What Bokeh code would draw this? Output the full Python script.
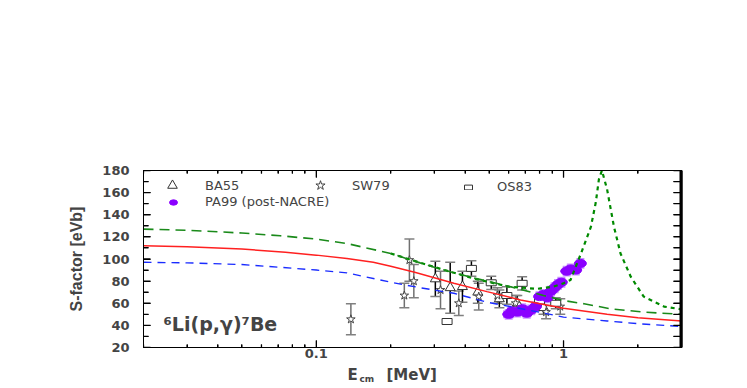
import math
import numpy as np
from bokeh.plotting import figure
from bokeh.layouts import column
from bokeh.models import (ColumnDataSource, Whisker, TeeHead, FixedTicker, LogAxis, LinearAxis,
                          Label, Legend, LegendItem, Range1d, CustomJSTickFormatter, Span)
from bokeh.embed import file_html
from bokeh.resources import INLINE

# ---------------- data ----------------
# axis ranges
XMIN, XMAX = 0.02, 3.0
YMIN, YMAX = 20, 180

# model curves  (E in MeV, S in eV b)
red_E = [0.02, 0.03, 0.05, 0.075, 0.1, 0.133, 0.17, 0.2, 0.25, 0.3, 0.36, 0.49, 0.67, 1.0, 1.5, 2.0, 3.0]
red_S = [112, 111, 109, 106, 103.5, 100.5, 97, 93.5, 88, 83, 78, 70.5, 63, 55.5, 50, 47, 44]

green_E = [0.02, 0.03, 0.05, 0.0715, 0.1, 0.133, 0.2, 0.263, 0.31, 0.44, 0.61, 0.83, 1.0, 1.21, 1.55, 2.11, 3.0]
green_S = [127, 126, 123.5, 121, 118, 114, 105, 96.5, 91.5, 82.5, 75, 67, 62.5, 59.5, 55, 52, 50]

blue_E = [0.02, 0.03, 0.05, 0.0715, 0.1, 0.133, 0.2, 0.263, 0.36, 0.49, 0.735, 1.0, 1.5, 2.0, 3.0]
blue_S = [97, 96.5, 95, 92.5, 90, 87.5, 79, 74, 69, 61, 53.5, 47.5, 44, 41.5, 39]

res_E = [0.2, 0.26, 0.33, 0.44, 0.6, 0.78, 0.91, 1.0, 1.067, 1.17, 1.29, 1.35, 1.39, 1.43, 1.5, 1.6, 1.7, 1.87, 2.11, 2.55, 3.0]
res_S = [105, 97, 90, 82, 75, 73, 75, 78, 81, 103.6, 129, 151, 172, 180, 163, 129, 105, 84, 66, 57, 54.5]

# experimental data
ba55_E = [0.303, 0.348, 0.39, 0.45, 0.55, 0.65, 0.83]
ba55_S = [82, 74, 75, 70, 64, 60, 56]
ba55_dS = [16, 23, 14, 10, 8, 7, 6]

sw79_E = [0.138, 0.227, 0.238, 0.248, 0.318, 0.377, 0.454, 0.54, 0.64, 0.85, 0.97]
sw79_S = [45.5, 67, 99, 80, 72, 60, 66, 67, 60, 52, 57]
sw79_dS = [14, 11, 19, 15, 17, 11, 12, 7, 7, 6, 7]

os83_E = [0.338, 0.424, 0.51, 0.59, 0.68, 0.8, 0.93]
os83_S = [43.5, 91.5, 78.5, 67, 78, 62, 60]
os83_dS = [2, 7, 6, 8, 6, 5, 5]

pa99_E = [0.60, 0.62, 0.65, 0.68, 0.71, 0.74, 0.77, 0.80, 0.83, 0.86, 0.89, 0.92, 0.95, 0.98, 1.03, 1.07, 1.12, 1.17]
pa99_S = [50, 53, 52, 55, 51, 54, 57, 66, 68, 65, 71, 74, 77, 79, 89, 91, 90, 96]
pa99_dS = [4] * 18
pa99_dE = [0.025] * 18

x_major = [0.1, 1]
x_minor = [0.02, 0.03, 0.04, 0.05, 0.06, 0.07, 0.08, 0.09, 0.2, 0.3, 0.4, 0.5, 0.6, 0.7, 0.8, 0.9, 2, 3]
y_major = [20, 40, 60, 80, 100, 120, 140, 160, 180]
y_minor = [30, 50, 70, 90, 110, 130, 150, 170]

# ---------------- figure ----------------
TICKFONT = "DejaVu Sans"
p = figure(width=745, height=363, x_axis_type="log", output_backend="svg", toolbar_location=None,
           x_range=Range1d(XMIN, XMAX), y_range=Range1d(YMIN, YMAX),
           min_border_left=143, min_border_right=64, min_border_top=170, min_border_bottom=16)
p.background_fill_color = "white"
p.border_fill_color = "white"
p.outline_line_color = "black"
p.outline_line_width = 1
p.xgrid.visible = False
p.ygrid.visible = False


def sources(E, S, dS):
    return ColumnDataSource(dict(E=E, S=S, lo=[s - d for s, d in zip(S, dS)], hi=[s + d for s, d in zip(S, dS)]))


def add_err(src, color, w=1.5):
    wk = Whisker(base="E", lower="lo", upper="hi", source=src, line_color=color, line_width=w,
                 upper_head=TeeHead(size=10, line_color="#808080", line_width=1.5),
                 lower_head=TeeHead(size=10, line_color="#808080", line_width=1.5))
    p.add_layout(wk)


src_ba = sources(ba55_E, ba55_S, ba55_dS)
src_sw = sources(sw79_E, sw79_S, sw79_dS)
src_os = sources(os83_E, os83_S, os83_dS)
src_pa = ColumnDataSource(dict(E=pa99_E, S=pa99_S,
                               lo=[s - d for s, d in zip(pa99_S, pa99_dS)],
                               hi=[s + d for s, d in zip(pa99_S, pa99_dS)],
                               Elo=[e - d for e, d in zip(pa99_E, pa99_dE)],
                               Ehi=[e + d for e, d in zip(pa99_E, pa99_dE)]))

add_err(src_sw, "#707070")
add_err(src_ba, "black")
add_err(src_os, "black")

p.add_layout(Whisker(base="E", lower="lo", upper="hi", source=src_pa, line_color="#c890ff", line_width=2,
                     upper_head=TeeHead(size=8, line_color="#c890ff", line_width=2),
                     lower_head=TeeHead(size=8, line_color="#c890ff", line_width=2)))
p.add_layout(Whisker(base="S", lower="Elo", upper="Ehi", dimension="width", source=src_pa,
                     line_color="#c890ff", line_width=2,
                     upper_head=TeeHead(size=8, line_color="#c890ff", line_width=2),
                     lower_head=TeeHead(size=8, line_color="#c890ff", line_width=2)))

r_ba = p.scatter("E", "S", source=src_ba, marker="triangle", size=10, fill_color="white",
                 line_color="#333333", line_width=1)
r_sw = p.scatter("E", "S", source=src_sw, marker="star", size=9, fill_color="white",
                 line_color="#444444", line_width=1)
r_os = p.rect("E", "S", source=src_os, width=10, height=6, width_units="screen", height_units="screen",
              fill_color="white", line_color="#333333", line_width=1)
r_pa = p.ellipse("E", "S", source=src_pa, width=12, height=8, width_units="screen", height_units="screen",
                 fill_color="#8a00ff", line_color="#8a00ff")

# curves
p.line(res_E, res_S, line_color="#008a00", line_width=2.2, line_dash="4 4")
p.line(green_E, green_S, line_color="#1a8a1a", line_width=1.6, line_dash="10 6")
p.line(blue_E, blue_S, line_color="#1a2cff", line_width=1.4, line_dash="8 6")
p.line(red_E, red_S, line_color="#ff2020", line_width=1.5)

# ---------------- axes ----------------
xt = FixedTicker(ticks=x_major, minor_ticks=x_minor)
yt = FixedTicker(ticks=y_major, minor_ticks=y_minor)
xfmt = CustomJSTickFormatter(code="return tick >= 1 ? tick.toFixed(0) : tick.toFixed(1);")
blank = CustomJSTickFormatter(code="return '';")

xa = p.xaxis[0]
xa.ticker = xt
xa.formatter = xfmt
xa.major_tick_in = 7
xa.major_tick_out = 0
xa.minor_tick_in = 3
xa.minor_tick_out = 0
xa.axis_line_color = "black"
xa.major_label_text_font = TICKFONT
xa.major_label_text_font_style = "bold"
xa.major_label_text_font_size = "13px"
xa.major_label_standoff = 1

ya = p.yaxis[0]
ya.ticker = yt
ya.major_tick_in = 7
ya.major_tick_out = 0
ya.minor_tick_in = 5
ya.minor_tick_out = 0
ya.major_label_text_font = TICKFONT
ya.major_label_text_font_style = "bold"
ya.major_label_text_font_size = "13px"
ya.major_label_standoff = 14
ya.axis_label = "S-factor [eVb]"
ya.axis_label_text_font = "'Liberation Sans Narrow', 'Liberation Sans', Arial, sans-serif"
ya.axis_label_text_font_style = "bold"
ya.axis_label_text_font_size = "16px"
ya.axis_label_standoff = 14

top = LogAxis(ticker=xt, formatter=blank, major_tick_in=7, major_tick_out=0, minor_tick_in=3, minor_tick_out=0,
              major_label_text_color=None, axis_line_color="black")
right = LinearAxis(ticker=yt, formatter=blank, major_tick_in=8, major_tick_out=0, minor_tick_in=8, minor_tick_out=0,
                   major_label_text_color=None, axis_line_color="black", axis_line_width=2.5)
p.add_layout(top, "above")
p.add_layout(right, "right")

# inward tick marks along the frame (same tick lists as the axes)
def tick_marks(xs, ys, size, angle):
    p.scatter(xs, ys, marker="dash", size=size, angle=angle, line_color="black", line_width=1.3)


tick_marks([XMIN] * len(y_major), y_major, 14, 0)
tick_marks([XMIN] * len(y_minor), y_minor, 10, 0)
tick_marks([XMAX] * len(y_major), y_major, 16, 0)
tick_marks([XMAX] * len(y_minor), y_minor, 16, 0)
tick_marks(x_major, [YMIN] * len(x_major), 14, math.pi / 2)
tick_marks(x_minor, [YMIN] * len(x_minor), 6, math.pi / 2)
tick_marks(x_major, [YMAX] * len(x_major), 14, math.pi / 2)
tick_marks(x_minor, [YMAX] * len(x_minor), 6, math.pi / 2)
p.add_layout(Span(location=XMAX, dimension="height", line_color="black", line_width=4))

# reaction label
p.add_layout(Label(x=20, y=13, x_units="screen", y_units="screen", text="\u2076Li(p,\u03b3)\u2077Be",
                   text_font=TICKFONT, text_font_style="bold", text_font_size="19px"))

# ---------------- legend ----------------
LEGFONT = "DejaVu Sans"


def add_legend(label, rend, x, y, gw, gh, standoff):
    lg = Legend(items=[LegendItem(label=label, renderers=[rend])], location=(x, y),
                glyph_width=gw, glyph_height=gh, label_height=gh, label_standoff=standoff,
                padding=0, margin=0, spacing=0, border_line_alpha=0, background_fill_alpha=0,
                label_text_font=LEGFONT, label_text_font_size="13px")
    p.add_layout(lg)


add_legend("BA55", r_ba, 17, 150, 24, 24, 21)
add_legend("SW79", r_sw, 165, 150, 24, 24, 20)
add_legend("OS83", r_os, 320, 153, 10, 6, 24)
add_legend("PA99 (post-NACRE)", r_pa, 23, 138, 14, 10, 25)

# ---------------- x-axis title strip (E with subscript cm) ----------------
# the strip's frame is aligned with the main frame (page x 143..681)
p2 = figure(width=745, height=23, x_range=Range1d(143, 681), y_range=Range1d(0, 23),
            output_backend="svg", toolbar_location=None, min_border=0,
            x_axis_location=None, y_axis_location=None, outline_line_color=None)
p2.xgrid.visible = False
p2.ygrid.visible = False
p2.add_layout(Label(x=347, y=12, text="E", text_baseline="alphabetic",
                    text_font=TICKFONT, text_font_style="bold", text_font_size="15px"))
p2.add_layout(Label(x=359, y=8, text="cm", text_baseline="alphabetic",
                    text_font=TICKFONT, text_font_style="bold", text_font_size="9px"))
p2.add_layout(Label(x=386, y=12, text="[MeV]", text_baseline="alphabetic",
                    text_font=TICKFONT, text_font_style="bold", text_font_size="15px"))

layout = column(p, p2, spacing=0)
open("out.html", "w").write(file_html(layout, INLINE))
